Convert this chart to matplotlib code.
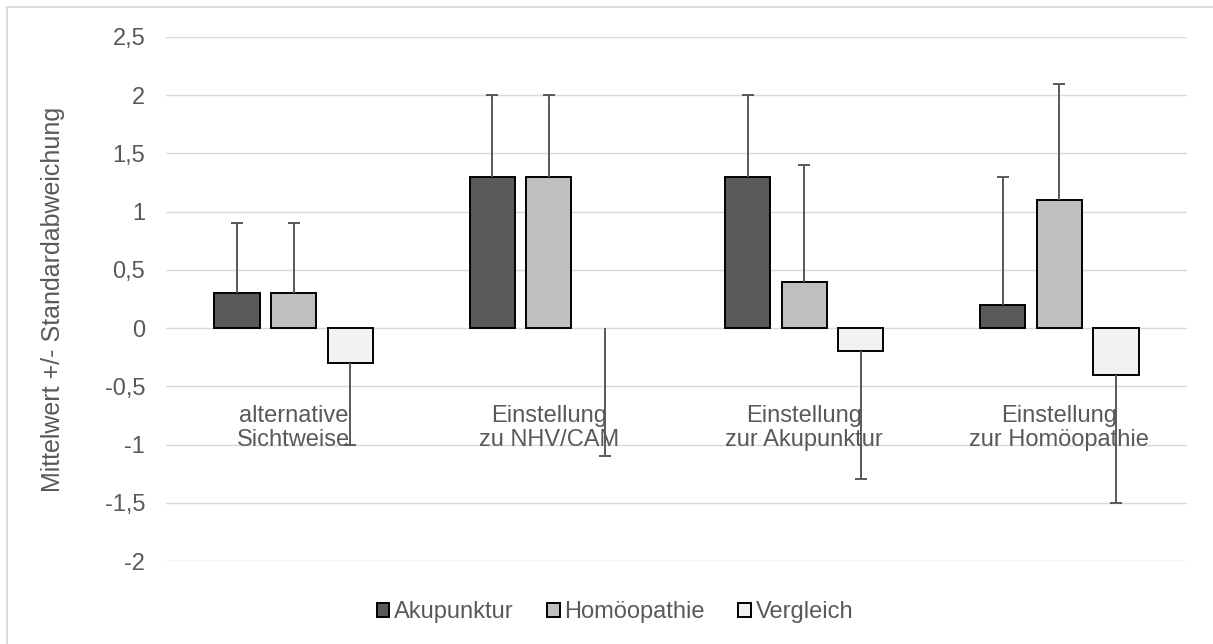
from matplotlib import pyplot as plt
from matplotlib.patches import Rectangle
import numpy as np

plt.rcParams['font.family'] = ['Liberation Sans', 'DejaVu Sans']

# Daten (Mittelwert und Standardabweichung)
kategorien = ['alternative\nSichtweise', 'Einstellung\nzu NHV/CAM',
              'Einstellung\nzur Akupunktur', 'Einstellung\nzur Homöopathie']
serien = ['Akupunktur', 'Homöopathie', 'Vergleich']
mittel_akupunktur = [0.3, 1.3, 1.3, 0.2]
mittel_homoeopathie = [0.3, 1.3, 0.4, 1.1]
mittel_vergleich = [-0.3, 0.0, -0.2, -0.4]
sd_akupunktur = [0.6, 0.7, 0.7, 1.1]
sd_homoeopathie = [0.6, 0.7, 1.0, 1.0]
sd_vergleich = [0.7, 1.1, 1.1, 1.1]
yticks = [-2, -1.5, -1, -0.5, 0, 0.5, 1, 1.5, 2, 2.5]
ytick_labels = ['-2', '-1,5', '-1', '-0,5', '0', '0,5', '1', '1,5', '2', '2,5']

farben = ['#595959', '#bfbfbf', '#f2f2f2']
textfarbe = '#595959'
fs = 17

fig = plt.figure(figsize=(12.13, 6.44), dpi=100)
ax = fig.add_axes([166/1213, 1 - 561/644, (1187 - 166)/1213, (561 - 37)/644])

x = np.arange(len(kategorien))
step = 0.2216
breite = 0.177
daten = [(mittel_akupunktur, sd_akupunktur),
         (mittel_homoeopathie, sd_homoeopathie),
         (mittel_vergleich, sd_vergleich)]

for i, (m, sd) in enumerate(daten):
    m = np.array(m)
    sd = np.array(sd)
    pos = x + (i - 1) * step
    lw = [1.4 if v != 0 else 0 for v in m]
    ax.bar(pos, m, width=breite, color=farben[i], edgecolor='black',
           linewidth=lw, label=serien[i], zorder=2)
    # Fehlerbalken nur in eine Richtung (weg von der Null)
    ende = np.where(m > 0, m + sd, m - sd)
    ax.vlines(pos, m, ende, color=textfarbe, linewidth=1.4, zorder=4)
    ax.plot(pos, ende, linestyle='none', marker='_', markersize=8.6,
            markeredgewidth=1.4, color=textfarbe, zorder=4)

for xi, k in zip(x, kategorien):
    ax.text(xi, -0.86, k, ha='center', va='center', multialignment='center',
            fontsize=fs, color=textfarbe, linespacing=1.1, zorder=3)

ax.set_xlim(-0.5, 3.5)
ax.set_ylim(-2, 2.5)
ax.set_yticks(yticks)
ax.set_yticklabels(ytick_labels)
ax.set_xticks([])
ax.tick_params(axis='y', length=0, pad=15, labelsize=fs, labelcolor=textfarbe)
ax.grid(axis='y', color='#d9d9d9', linewidth=1.0, zorder=0)
ax.set_axisbelow(True)
for s in ax.spines.values():
    s.set_visible(False)

fig.text(53/1213, 1 - 299/644, 'Mittelwert +/- Standardabweichung', rotation=90,
         ha='center', va='center', fontsize=18, color=textfarbe)

fig.legend(loc='center', bbox_to_anchor=(615/1213, 1 - 612/644), ncol=3,
           frameon=False, fontsize=fs, labelcolor=textfarbe,
           handlelength=0.55, handleheight=0.55, handletextpad=0.2,
           columnspacing=1.4)

# Rahmen um das Diagramm
fig.patches.append(Rectangle((7/1213, -0.05), 1.1, 1 - 7/644 + 0.05,
                             transform=fig.transFigure, fill=False,
                             edgecolor='#d9d9d9', linewidth=1.4))

plt.savefig('out.png')
